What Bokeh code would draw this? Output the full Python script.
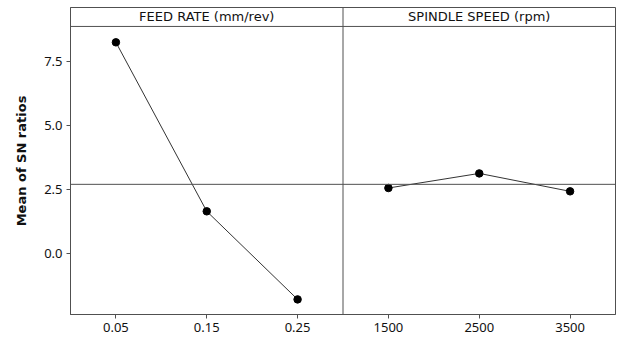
from bokeh.plotting import figure
from bokeh.models import Span, FixedTicker, Range1d, ColumnDataSource, CustomJSTickFormatter
from bokeh.core.properties import value
from bokeh.embed import file_html
from bokeh.resources import INLINE

# Data
factors = ["FEED RATE (mm/rev)", "SPINDLE SPEED (rpm)"]
feed_levels = ["0.05", "0.15", "0.25"]
feed_sn = [8.24, 1.64, -1.80]
speed_levels = ["1500", "2500", "3500"]
speed_sn = [2.55, 3.12, 2.42]

grand_mean = sum(feed_sn) / len(feed_sn)

FONT = "DejaVu Sans"
TICK_FONT = "Noto Sans"
FRAME = "#505050"

p = figure(width=617, height=338, output_backend="svg", toolbar_location=None,
           x_range=Range1d(0.5, 6.5), y_range=Range1d(-2.39, 9.60),
           min_border_left=70, min_border_right=2, min_border_top=7, min_border_bottom=24)
p.xgrid.visible = False
p.ygrid.visible = False
p.outline_line_color = FRAME
p.outline_line_width = 1
p.background_fill_color = "white"

# x positions (index-based per panel)
feed_x = [1, 2, 3]
speed_x = [4, 5, 6]

src_f = ColumnDataSource(dict(x=feed_x, y=feed_sn))
src_s = ColumnDataSource(dict(x=speed_x, y=speed_sn))
for s in (src_f, src_s):
    p.line("x", "y", source=s, line_color="#333333", line_width=1)
    p.scatter("x", "y", source=s, size=7.5, fill_color="black", line_color="black")

# mean line
p.add_layout(Span(location=grand_mean, dimension="width", line_color=FRAME, line_width=1))
# panel divider
p.add_layout(Span(location=3.5, dimension="height", line_color=FRAME, line_width=1))
# strip boundary
strip_y = 8.86
p.add_layout(Span(location=strip_y, dimension="width", line_color=FRAME, line_width=1))
p.text(x=[2, 5], y=[(strip_y + 9.60) / 2] * 2, text=factors,
       text_font=value(FONT), text_font_size="13px", text_color="#111111",
       text_align="center", text_baseline="middle")

# axes
p.xaxis.ticker = FixedTicker(ticks=feed_x + speed_x)
p.xaxis.major_label_overrides = {x: l for x, l in zip(feed_x + speed_x, feed_levels + speed_levels)}
p.yaxis.ticker = FixedTicker(ticks=[0, 2.5, 5.0, 7.5])
p.yaxis.formatter = CustomJSTickFormatter(code="return tick.toFixed(1);")
for ax in (p.xaxis[0], p.yaxis[0]):
    ax.axis_line_color = FRAME
    ax.major_tick_line_color = FRAME
    ax.major_tick_out = 4
    ax.major_tick_in = 0
    ax.minor_tick_line_color = None
    ax.major_label_text_font = TICK_FONT
    ax.major_label_text_font_size = "13px"
    ax.major_label_text_color = "#111111"
    ax.major_label_standoff = 4
p.yaxis.axis_label = "Mean of SN ratios"
p.yaxis.axis_label_text_font = FONT
p.yaxis.axis_label_text_font_size = "13px"
p.yaxis.axis_label_text_font_style = "bold"
p.yaxis.axis_label_text_color = "#111111"
p.yaxis.axis_label_standoff = 12

open("out.html", "w").write(file_html(p, INLINE))
